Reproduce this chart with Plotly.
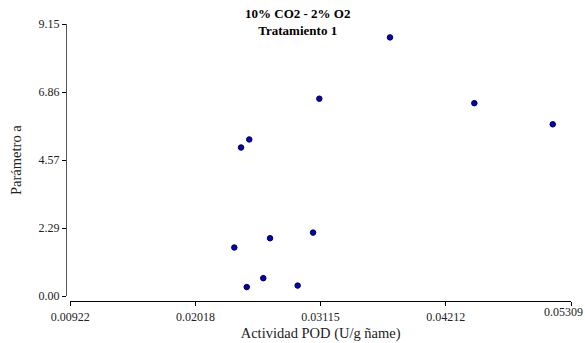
import plotly.graph_objects as go

actividad_pod = [0.03723, 0.03104, 0.04462, 0.05149, 0.02490, 0.02418,
                 0.02359, 0.02672, 0.03049, 0.02613, 0.02468, 0.02914]
parametro_a = [8.70, 6.64, 6.49, 5.78, 5.27, 5.00,
               1.64, 1.95, 2.14, 0.61, 0.31, 0.36]
x_ticks = [0.00922, 0.02018, 0.03115, 0.04212, 0.05309]
y_ticks = [0.00, 2.29, 4.57, 6.86, 9.15]

W, H = 585, 343
L, R, T, B = 66, 14, 24, 42
pw, ph = W - L - R, H - T - B

font = "Liberation Serif, serif"
x_labels = [f"{v:.5f}" for v in x_ticks]

fig = go.Figure()
fig.add_trace(go.Scatter(
    x=actividad_pod, y=parametro_a, mode="markers",
    marker=dict(size=5.5, color="#0000cc", line=dict(color="#000033", width=1)),
    showlegend=False, cliponaxis=False,
))

fig.update_layout(
    width=W, height=H,
    margin=dict(l=L, r=R, t=T, b=B, autoexpand=False),
    paper_bgcolor="white", plot_bgcolor="white",
    font=dict(family=font, color="#222"),
    xaxis=dict(
        range=[x_ticks[0], x_ticks[-1]], domain=[0.0085, 1],
        anchor="free", position=0, automargin=False,
        tickvals=x_ticks, ticktext=x_labels[:-1] + [""],
        ticks="outside", ticklen=4, tickcolor="#000", tickwidth=1,
        showline=True, linecolor="#000", linewidth=1.3,
        showgrid=False, zeroline=False,
        tickfont=dict(size=12, family=font, color="#222"),
        title=dict(text="Actividad POD (U/g ñame)", font=dict(size=14.5, family=font, color="#222"), standoff=5),
    ),
    yaxis=dict(
        range=[y_ticks[0], y_ticks[-1]], domain=[0.017, 1],
        anchor="free", position=0, automargin=False,
        tickvals=y_ticks, ticktext=[f"{v:.2f}" for v in y_ticks],
        ticks="outside", ticklen=4, tickcolor="#000", tickwidth=1,
        showline=True, linecolor="#555", linewidth=1.3,
        showgrid=False, zeroline=False,
        tickfont=dict(size=12, family=font, color="#222"),
        title=dict(text="Parámetro a", font=dict(size=14.5, family=font, color="#222"), standoff=12),
    ),
    annotations=[
        dict(text="<b>10% CO2 - 2% O2</b><br><b>Tratamiento 1</b>",
             xref="paper", yref="paper",
             x=(297 - L) / pw, y=1 + (T - 4) / ph,
             showarrow=False, xanchor="center", yanchor="top",
             font=dict(size=13, family=font, color="#000")),
        dict(text=x_labels[-1], xref="paper", yref="paper",
             x=(585 - L) / pw, y=-11 / ph,
             showarrow=False, xanchor="right", yanchor="middle",
             font=dict(size=12, family=font, color="#222")),
    ],
)
fig.write_html("out.html")
